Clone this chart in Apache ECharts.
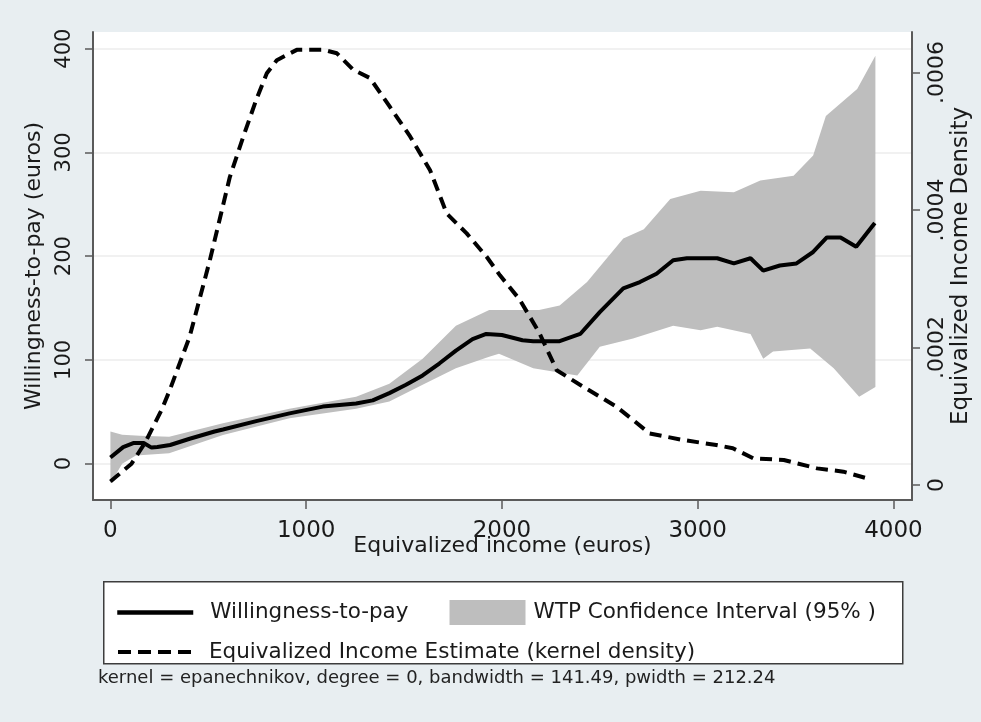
<!DOCTYPE html>
<html>
<head>
<meta charset="utf-8">
<title>Willingness-to-pay by equivalized income</title>
<script src="https://cdn.jsdelivr.net/npm/echarts@6/dist/echarts.min.js"></script>
<style>
  html, body { margin: 0; padding: 0; background: #e8eef1; }
  #chart { width: 981px; height: 722px; }
</style>
</head>
<body>
<div id="chart"></div>
<script>
// Local-polynomial WTP estimate (euros) against equivalized income (euros)
const wtpIncome = [0, 65, 120, 170, 210, 240, 305, 405, 532, 575, 745, 915, 1085, 1255, 1340, 1425, 1510, 1595, 1680, 1765, 1850, 1920, 2000, 2105, 2160, 2295, 2400, 2500, 2620, 2705, 2790, 2875, 2945, 3100, 3185, 3270, 3335, 3420, 3505, 3590, 3660, 3730, 3810, 3905];
const wtpValue  = [6, 16, 20, 20, 15.5, 16, 18, 24, 31, 33, 41, 48.5, 55, 58, 61, 68, 76, 85, 96.5, 109, 120, 125, 124, 119, 118, 118, 125, 146, 169, 175, 183, 196, 198, 198, 193, 198, 186, 191, 193, 204, 218, 218, 209, 232];

// 95% confidence band around the WTP estimate
const ciUpperIncome = [0, 60, 150, 300, 575, 915, 1255, 1425, 1595, 1765, 1935, 1985, 2190, 2295, 2435, 2620, 2725, 2860, 3015, 3185, 3320, 3490, 3590, 3655, 3815, 3908];
const ciUpper       = [31, 28, 27, 26, 39, 53, 64.5, 77, 101, 133, 148, 148, 148, 152.5, 175, 217, 226, 255, 263, 261.5, 273, 277.5, 297, 335, 361, 393];
const ciLowerIncome = [0, 60, 130, 300, 575, 915, 1255, 1425, 1595, 1765, 1935, 1985, 2160, 2385, 2500, 2670, 2875, 3015, 3100, 3270, 3335, 3385, 3575, 3695, 3825, 3908];
const ciLower       = [-19, 0, 8, 10, 27.6, 43.7, 53, 60, 76, 92, 103, 106, 92, 85, 112.6, 120.6, 133, 128.6, 132, 125, 101, 108, 111, 92, 64.5, 74];

// Kernel density of equivalized income (right axis)
const densityIncome = [0, 108, 176, 261, 303, 405, 508, 610, 679, 747, 799, 850, 952, 1088, 1157, 1241, 1326, 1428, 1531, 1633, 1718, 1820, 1922, 1990, 2090, 2190, 2280, 2415, 2585, 2755, 2925, 3095, 3180, 3285, 3440, 3610, 3745, 3865];
const densityValue  = [0.000005, 0.000031, 0.000061, 0.000109, 0.000138, 0.000216, 0.000327, 0.000448, 0.000507, 0.000562, 0.000599, 0.000618, 0.000633, 0.000633, 0.000628, 0.000604, 0.000592, 0.00055, 0.000507, 0.000458, 0.000395, 0.000366, 0.000332, 0.000305, 0.00027, 0.000222, 0.000167, 0.000143, 0.000114, 0.000075, 0.0000655, 0.0000582, 0.0000534, 0.0000388, 0.0000364, 0.0000242, 0.0000194, 0.0000097];

// Tick values
const incomeTicks  = [0, 1000, 2000, 3000, 4000];
const wtpTicks     = [0, 100, 200, 300, 400];
const densityTicks = [0, 0.0002, 0.0004, 0.0006];

const noteText = 'kernel = epanechnikov, degree = 0, bandwidth = 141.49, pwidth = 212.24';

const FONT = 'DejaVu Sans';
const INK = '#1a1a1a';
const AXIS = '#5a5a5a';
const BAND = '#bebebe';

const zip = (xs, ys) => xs.map((x, i) => [x, ys[i]]);

const chart = echarts.init(document.getElementById('chart'), null, { renderer: 'canvas' });

// legend entries for line series: line sample only, no marker
const noMarker = { opacity: 0 };

chart.setOption({
  backgroundColor: '#e8eef1',
  animation: false,
  grid: {
    left: 93, right: 69, top: 32, bottom: 222,
    show: true, backgroundColor: '#ffffff', borderWidth: 0
  },
  xAxis: {
    type: 'value', min: -89, max: 4095,
    axisLine: { show: true, onZero: false, lineStyle: { color: AXIS, width: 2 } },
    axisTick: { show: true, length: 9, lineStyle: { color: AXIS, width: 1.5 }, customValues: incomeTicks },
    axisLabel: {
      customValues: incomeTicks, fontFamily: FONT, fontSize: 23, color: INK, margin: 20,
      formatter: v => String(Math.round(v))
    },
    splitLine: { show: false },
    name: 'Equivalized income (euros)', nameLocation: 'middle', nameGap: 35, nameMoveOverlap: false,
    nameTextStyle: { fontFamily: FONT, fontSize: 22, color: INK }
  },
  yAxis: [
    {
      type: 'value', min: -35, max: 416, position: 'left',
      axisLine: { show: true, onZero: false, lineStyle: { color: AXIS, width: 2 } },
      axisTick: { show: true, length: 8, lineStyle: { color: AXIS, width: 1.5 }, customValues: wtpTicks },
      axisLabel: { customValues: wtpTicks, rotate: 90, fontFamily: FONT, fontSize: 21, color: INK, margin: 18 },
      splitLine: { show: true, lineStyle: { color: '#ececec', width: 1.5 } },
      name: 'Willingness-to-pay (euros)', nameLocation: 'middle', nameGap: 48, nameMoveOverlap: false,
      nameTextStyle: { fontFamily: FONT, fontSize: 22, color: INK }
    },
    {
      type: 'value', min: -0.0000218, max: 0.000659, position: 'right',
      axisLine: { show: true, onZero: false, lineStyle: { color: AXIS, width: 2 } },
      axisTick: { show: true, length: 8, lineStyle: { color: AXIS, width: 1.5 }, customValues: densityTicks },
      axisLabel: {
        customValues: densityTicks, rotate: 90, fontFamily: FONT, fontSize: 22, color: INK, margin: 14,
        formatter: v => (Math.abs(v) < 1e-12 ? '0' : v.toFixed(4).replace(/^0/, ''))
      },
      splitLine: { show: false },
      name: 'Equivalized Income Density', nameLocation: 'middle', nameGap: 38, nameMoveOverlap: false,
      nameTextStyle: { fontFamily: FONT, fontSize: 23, color: INK }
    }
  ],
  legend: [
    {
      left: 110, top: 595, orient: 'horizontal', itemWidth: 76, itemHeight: 25, itemGap: 41,
      selectedMode: false,
      textStyle: { fontFamily: FONT, fontSize: 21.5, color: INK },
      data: [
        {
          name: 'Willingness-to-pay', itemStyle: noMarker,
          lineStyle: { color: '#000000', width: 4.5, type: 'solid' },
          textStyle: { padding: [0, 0, 0, 12] }
        },
        { name: 'WTP Confidence Interval (95% )', icon: 'rect', textStyle: { padding: [0, 0, 0, 3] } }
      ]
    },
    {
      left: 111, top: 636, orient: 'horizontal', itemWidth: 76, itemHeight: 25,
      selectedMode: false,
      textStyle: { fontFamily: FONT, fontSize: 21.5, color: INK },
      data: [
        {
          name: 'Equivalized Income Estimate (kernel density)', itemStyle: noMarker,
          lineStyle: { color: '#000000', width: 4, type: [13, 7] },
          textStyle: { padding: [0, 0, 0, 10] }
        }
      ]
    }
  ],
  graphic: [
    {
      type: 'rect', z: 1, left: 103, top: 581,
      shape: { width: 799, height: 82 },
      style: { fill: '#ffffff', stroke: '#3d3d3d', lineWidth: 1.5 }
    },
    {
      type: 'text', z: 1, left: 98, top: 669,
      style: { text: noteText, fontFamily: FONT, fontSize: 18, fill: '#222222' }
    }
  ],
  series: [
    {
      name: 'WTP Confidence Interval (95% )',
      type: 'custom',
      xAxisIndex: 0, yAxisIndex: 0,
      itemStyle: { color: BAND },
      clip: true,
      z: 1,
      data: [[ciUpperIncome[0], ciUpper[0]]],
      renderItem: (params, api) => {
        const pts = [];
        for (let i = 0; i < ciUpperIncome.length; i++) pts.push(api.coord([ciUpperIncome[i], ciUpper[i]]));
        for (let i = ciLowerIncome.length - 1; i >= 0; i--) pts.push(api.coord([ciLowerIncome[i], ciLower[i]]));
        return { type: 'polygon', shape: { points: pts }, style: { fill: BAND } };
      }
    },
    {
      name: 'Equivalized Income Estimate (kernel density)',
      type: 'line', xAxisIndex: 0, yAxisIndex: 1,
      showSymbol: false, symbol: 'none', smooth: false, z: 3,
      lineStyle: { color: '#000000', width: 4, type: [12, 7] },
      itemStyle: { color: '#000000' },
      data: zip(densityIncome, densityValue)
    },
    {
      name: 'Willingness-to-pay',
      type: 'line', xAxisIndex: 0, yAxisIndex: 0,
      showSymbol: false, symbol: 'none', smooth: false, z: 4,
      lineStyle: { color: '#000000', width: 4 },
      itemStyle: { color: '#000000' },
      data: zip(wtpIncome, wtpValue)
    }
  ]
});
</script>
</body>
</html>
